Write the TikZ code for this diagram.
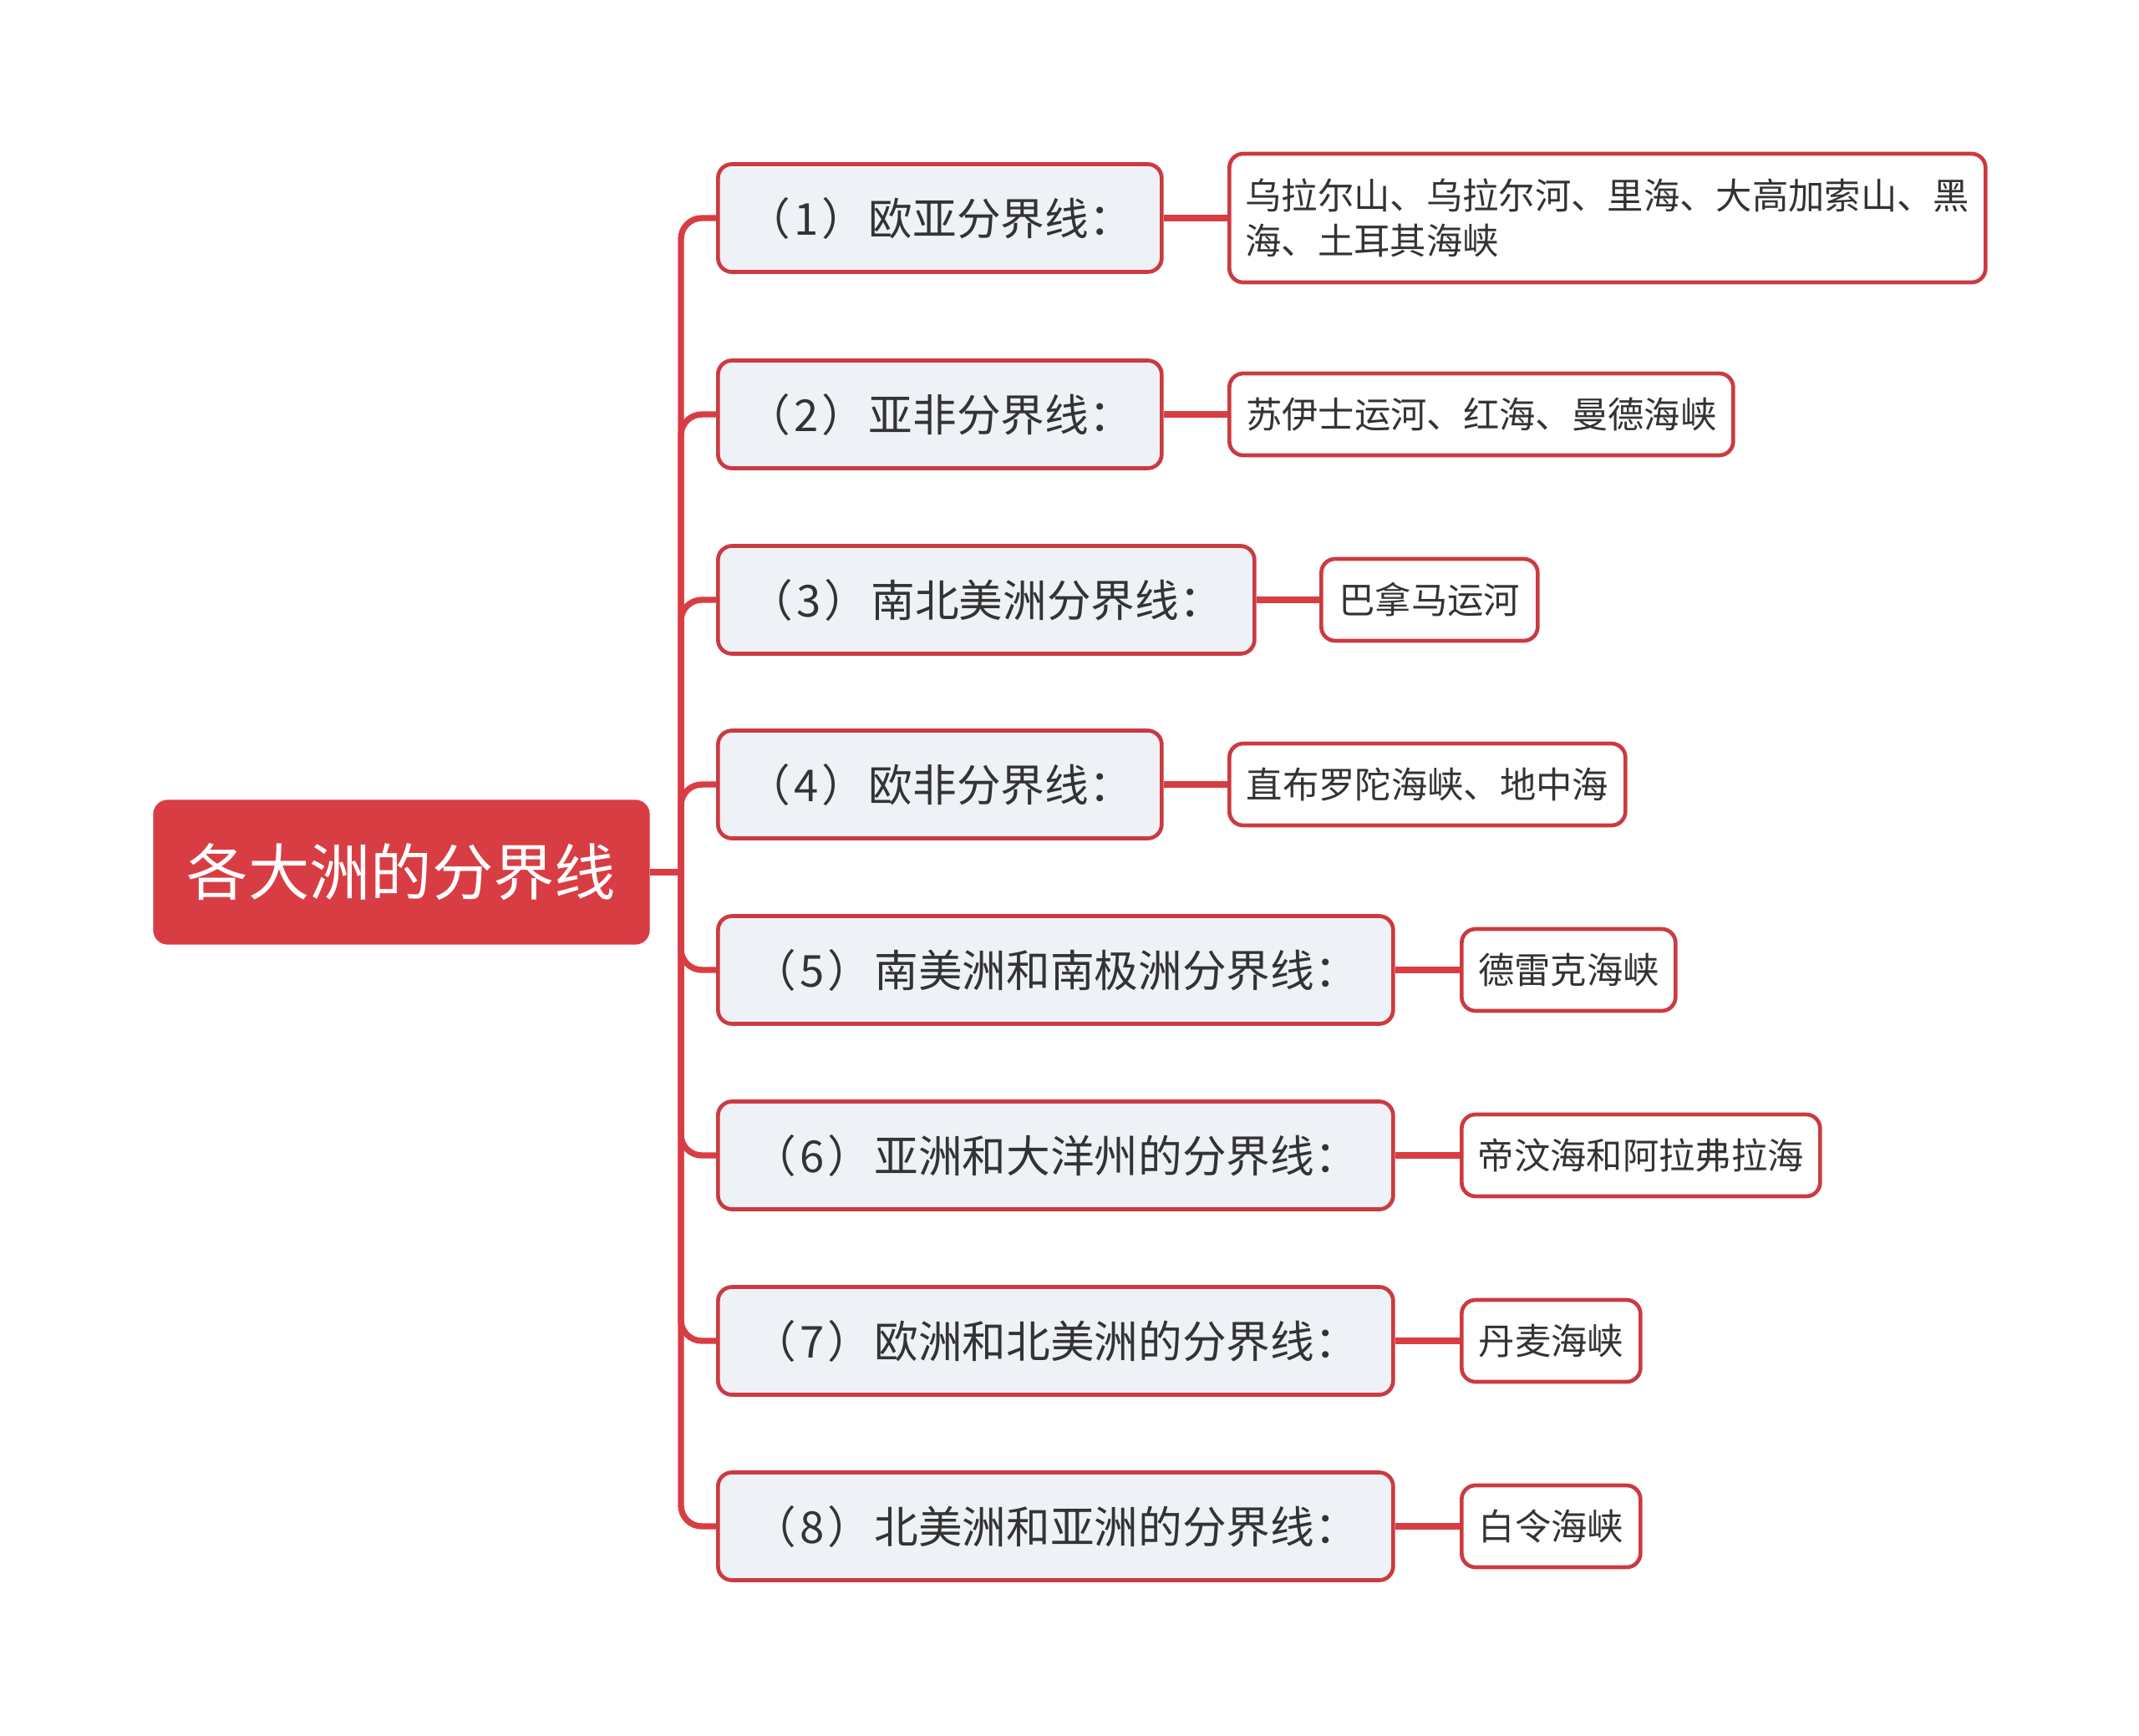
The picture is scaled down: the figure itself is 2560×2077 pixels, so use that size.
\documentclass[tikz,border=0pt]{standalone}
\usepackage{fontspec}
\setmainfont{Noto Sans CJK SC}
\definecolor{myred}{HTML}{D93D44}
\definecolor{bordred}{HTML}{CC3A41}
\definecolor{branchfill}{HTML}{EEF1F5}
\definecolor{txt}{HTML}{333333}
\newcommand{\bnum}[1]{（\kern1.2pt#1\kern1.2pt）\kern1pt}
\tikzset{
  conn/.style={draw=myred, line width=2.2pt, rounded corners=7.5pt},
  rootbox/.style={fill=myred, draw=myred, rounded corners=5pt, text=white,
    font=\fontsize{22}{26}\selectfont, minimum width=177.9pt, minimum height=51.6pt, inner sep=0pt},
  branchbox/.style={fill=branchfill, draw=bordred, line width=1.4pt, rounded corners=5pt, text=txt,
    font=\fontsize{15.8}{18}\selectfont, minimum height=38.7pt, inner sep=0pt, anchor=west},
  leafbox/.style={fill=white, draw=bordred, line width=1.4pt, rounded corners=5pt, text=txt,
    font=\fontsize{13}{16.2}\selectfont, minimum height=29.4pt, inner sep=0pt, anchor=west},
}
\begin{document}
\begin{tikzpicture}[x=0.3pt,y=-0.3pt]
\useasboundingbox (0,0) rectangle (2560,2077);
\node[rootbox] (root) at (480.5,1044) {各大洲的分界线};
\coordinate (j) at (815,1044);

\node[branchbox, minimum width=159.3pt] (b1) at (857,261) {\bnum{1}欧亚分界线：};
\node[branchbox, minimum width=159.3pt] (b2) at (857,496) {\bnum{2}亚非分界线：};
\node[branchbox, minimum width=192.6pt] (b3) at (857,718) {\bnum{3}南北美洲分界线：};
\node[branchbox, minimum width=159.3pt] (b4) at (857,939) {\bnum{4}欧非分界线：};
\node[branchbox, minimum width=242.4pt] (b5) at (857,1161) {\bnum{5}南美洲和南极洲分界线：};
\node[branchbox, minimum width=242.4pt] (b6) at (857,1383) {\bnum{6}亚洲和大洋州的分界线：};
\node[branchbox, minimum width=242.4pt] (b7) at (857,1605) {\bnum{7}欧洲和北美洲的分界线：};
\node[branchbox, minimum width=242.4pt] (b8) at (857,1827) {\bnum{8}北美洲和亚洲的分界线：};

\node[leafbox, minimum width=271.5pt, minimum height=46.2pt, align=left] (l1) at (1469,261)
  {乌拉尔山、乌拉尔河、里海、大高加索山、黑\\海、土耳其海峡};
\node[leafbox, minimum width=180.9pt] (l2) at (1469,496) {苏伊士运河、红海、曼德海峡};
\node[leafbox, minimum width=77.7pt] (l3) at (1579,718) {巴拿马运河};
\node[leafbox, minimum width=142.2pt] (l4) at (1469,939) {直布罗陀海峡、地中海};
\node[leafbox, minimum width=76.8pt] (l5) at (1747,1161) {德雷克海峡};
\node[leafbox, minimum width=128.7pt] (l6) at (1747,1383) {帝汶海和阿拉弗拉海};
\node[leafbox, minimum width=64.2pt] (l7) at (1747,1605) {丹麦海峡};
\node[leafbox, minimum width=64.2pt] (l8) at (1747,1827) {白令海峡};

\begin{scope}[on background layer/.try]
\draw[conn] (root.east) -- (j);
\foreach \i in {1,...,8} {
  \draw[conn] (j) |- (b\i.west);
  \draw[conn] (b\i.east) -- (l\i.west);
}
\end{scope}
\end{tikzpicture}
\end{document}
